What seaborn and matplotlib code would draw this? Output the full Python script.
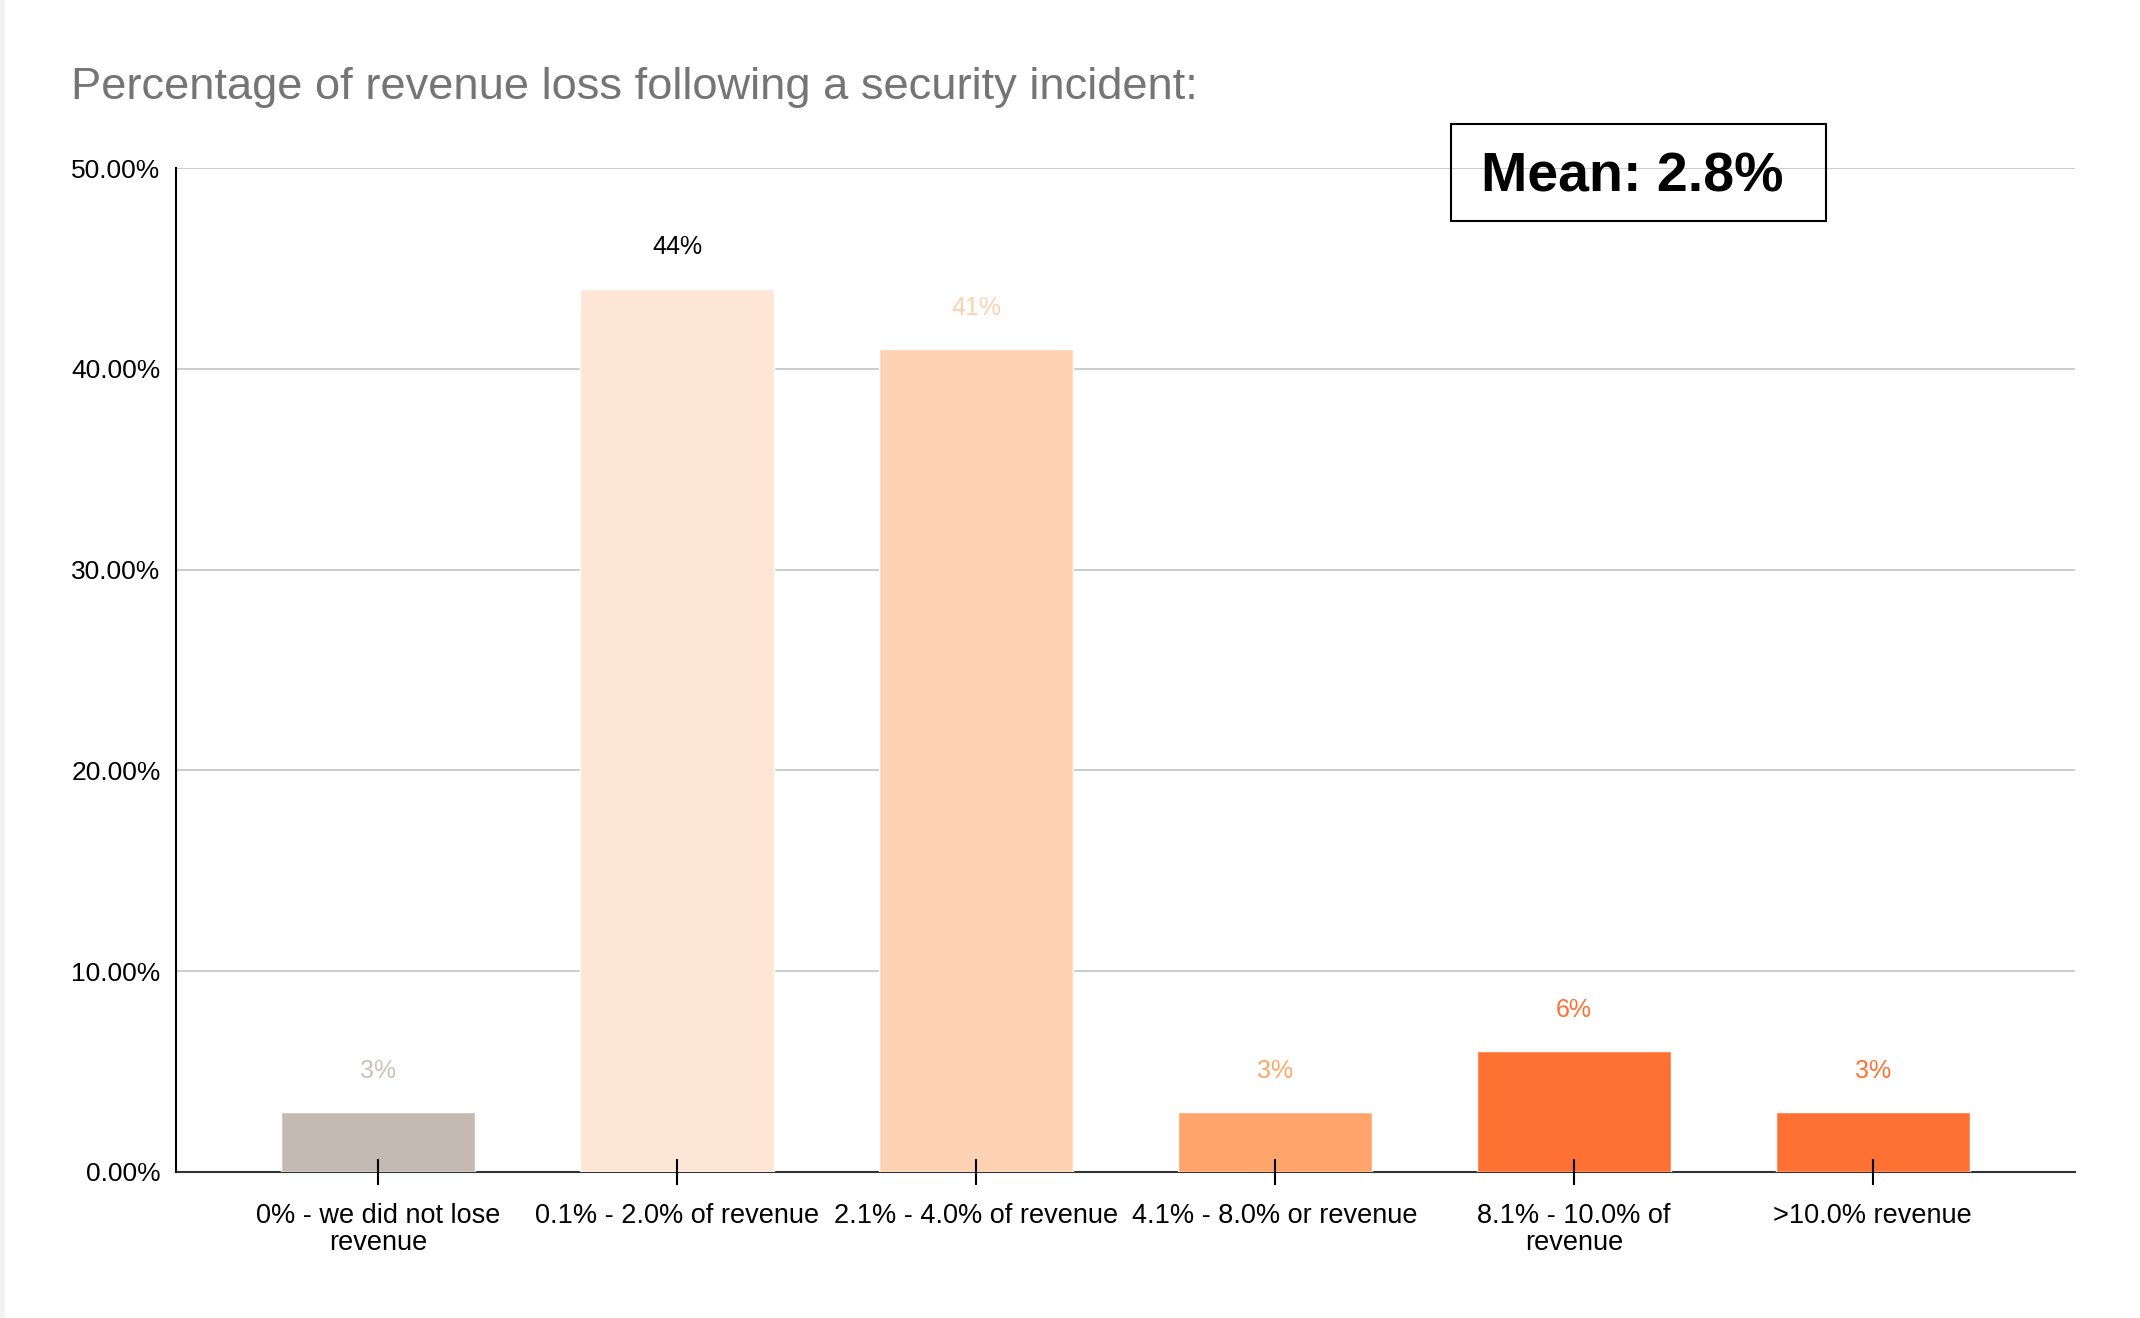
import matplotlib
matplotlib.use("Agg")
import seaborn as sns
import matplotlib.pyplot as plt
import pandas as pd
from matplotlib.patches import Rectangle

# data
categories = [
    "0% - we did not lose\nrevenue",
    "0.1% - 2.0% of revenue",
    "2.1% - 4.0% of revenue",
    "4.1% - 8.0% or revenue",
    "8.1% - 10.0% of\nrevenue",
    ">10.0% revenue",
]
shares = [3, 44, 41, 3, 6, 3]
value_labels = ["3%", "44%", "41%", "3%", "6%", "3%"]
bar_colors = ["#C4BAB1", "#FDE6D5", "#FDD2B3", "#FFA56B", "#FF7033", "#FF7033"]
label_colors = ["#C8C2BC", "#000000", "#FBD1B0", "#FFA56B", "#FF7033", "#FF7033"]
y_ticks = [0, 10, 20, 30, 40, 50]

sns.set_style("white")
plt.rcParams["font.family"] = ["Liberation Sans", "DejaVu Sans"]

fig = plt.figure(figsize=(21.4, 13.18), dpi=100)
ax = fig.add_axes([0.0822, 0.1108, 0.8874, 0.7617])

df = pd.DataFrame({"category": categories, "share": shares})
sns.barplot(data=df, x="category", y="share", hue="category", palette=bar_colors,
            width=0.65, saturation=1, legend=False, ax=ax, zorder=1)

ax.set_xlim(-0.676, 5.676)
ax.set_ylim(0, 50)

# gridlines behind the bars
for y in y_ticks[1:]:
    ax.axhline(y, color="#CCCCCC", lw=1.4, zorder=0)

ax.set_yticks(y_ticks)
ax.set_yticklabels([f"{v:.2f}%" for v in y_ticks])
ax.tick_params(axis="y", left=False, length=0, pad=11, labelsize=19, labelcolor="black")
ax.tick_params(axis="x", bottom=True, direction="inout", length=19, width=1.5, color="black",
               pad=13, labelsize=19.5, labelcolor="black")
ax.xaxis.set_zorder(2)
for lab in ax.get_xticklabels():
    lab.set_linespacing(1.05)

ax.set_xlabel("")
ax.set_ylabel("")
sns.despine(ax=ax, top=True, right=True)
ax.spines["left"].set_color("black")
ax.spines["left"].set_linewidth(1.5)
ax.spines["bottom"].set_color("#333333")
ax.spines["bottom"].set_linewidth(1.5)
ax.spines["bottom"].set_zorder(0.8)

# value labels above bars
for cont, txt, c in zip(ax.containers, value_labels, label_colors):
    ax.bar_label(cont, labels=[txt], padding=21, color=c, fontsize=18)

# title
fig.text(71 / 2140, 1 - 88 / 1318, "Percentage of revenue loss following a security incident:",
         fontsize=32.6, color="#757575", ha="left", va="center")

# mean box
fig.add_artist(Rectangle((1451 / 2140, 1 - 221 / 1318), 375 / 2140, 97 / 1318,
                         transform=fig.transFigure, fill=False, ec="black", lw=1.5))
fig.text(1632 / 2140, 1 - 178 / 1318, "Mean: 2.8%", fontsize=40, fontweight="bold",
         ha="center", va="center", color="black")

# light strip at left edge
fig.add_artist(Rectangle((0, 0), 5 / 2140, 1, transform=fig.transFigure,
                         color="#F3F3F3", lw=0))

fig.savefig("out.png", dpi=100)
